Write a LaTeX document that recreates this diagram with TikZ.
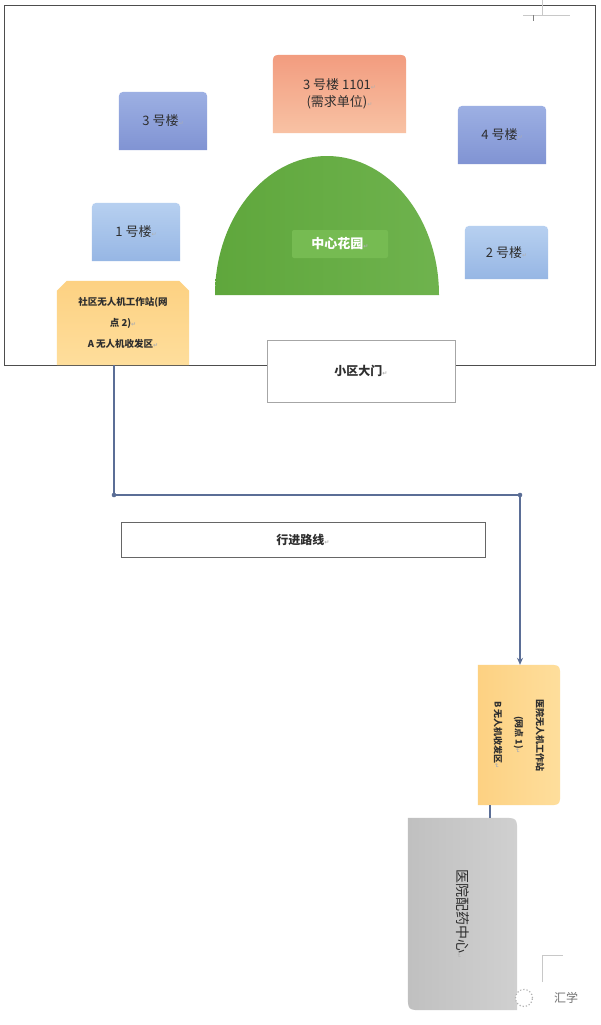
\documentclass[tikz,border=0pt]{standalone}
\usepackage{fontspec}
\setmainfont{Noto Sans CJK SC}
\newfontfamily\dejavu{DejaVu Sans}
\usetikzlibrary{arrows.meta,calc,backgrounds}
\definecolor{frameC}{HTML}{4D4D4D}
\definecolor{blueDa}{HTML}{9DB0E3}
\definecolor{blueDb}{HTML}{8093D3}
\definecolor{blueLa}{HTML}{B7D0F0}
\definecolor{blueLb}{HTML}{96B6E4}
\definecolor{salA}{HTML}{F29C7F}
\definecolor{salB}{HTML}{F8C2A4}
\definecolor{greenG}{HTML}{62AC3E}
\definecolor{greenL}{HTML}{76BB52}
\definecolor{yelA}{HTML}{FDD182}
\definecolor{yelB}{HTML}{FEDE9C}
\definecolor{grayA}{HTML}{C0C0C0}
\definecolor{grayB}{HTML}{D0D0D0}
\definecolor{routeC}{HTML}{5B6E96}
\definecolor{txtC}{HTML}{2E2E2E}
\definecolor{retC}{HTML}{B0B0B0}
\definecolor{markC}{HTML}{C8C8C8}
\newcommand\rmark{{\dejavu\fontsize{6}{6}\selectfont\textcolor{retC}{↵}}}
\tikzset{
  txtnode/.style={inner sep=0pt, text=txtC, align=center},
  bigtxt/.style={font=\fontsize{13}{17}\selectfont},
  toprnd/.style 2 args={insert path={(#1.south west) -- ($(#1.north west)+(0,#2)$) .. controls (#1.north west) .. ($(#1.north west)+(#2,0)$) -- ($(#1.north east)+(-#2,0)$) .. controls (#1.north east) .. ($(#1.north east)+(0,#2)$) -- (#1.south east) -- cycle}},
  plainbox/.style={draw=#1, fill=white, line width=1pt, inner sep=0pt, text=txtC, font=\fontsize{12}{14}\selectfont\bfseries},
  route/.style={draw=routeC, line width=1.5pt},
  markline/.style={draw=markC, line width=0.8pt}
}
\begin{document}
\begin{tikzpicture}[x=1pt,y=-1pt]
\useasboundingbox (0,0) rectangle (600,1025);

% --- nodes (text) ---
\node[minimum width=591pt, minimum height=359pt, inner sep=0pt] (frame) at (300,185.5) {};
\node[txtnode, bigtxt, minimum width=133pt, minimum height=78pt] (b1101) at (339.5,94) {3 号楼 1101\rmark\\(需求单位)\rmark};
\node[txtnode, bigtxt, minimum width=88pt, minimum height=58pt] (b3) at (163,121) {3 号楼\rmark};
\node[txtnode, bigtxt, minimum width=88pt, minimum height=58pt] (b4) at (502,135) {4 号楼\rmark};
\node[txtnode, bigtxt, minimum width=88pt, minimum height=58pt] (b1) at (136,232) {1 号楼\rmark};
\node[txtnode, bigtxt, minimum width=83pt, minimum height=53pt] (b2) at (506.5,252.5) {2 号楼\rmark};
\node[txtnode, minimum width=132pt, minimum height=84pt, font=\fontsize{9.5}{21}\selectfont\bfseries] (yA) at (123,323) {社区无人机工作站(网\\点 2)\rmark\\A 无人机收发区\rmark};
\node[txtnode, minimum width=82pt, minimum height=140pt] (yB) at (519,735) {};
\node[txtnode, rotate=-90, font=\fontsize{9}{21}\selectfont\bfseries] (yBt) at (yB.center) {医院无人机工作站\\(网点 1)\rmark\\B 无人机收发区\rmark};
\node[txtnode, minimum width=109pt, minimum height=192pt] (gray) at (462.5,914) {};
\node[txtnode, rotate=-90, font=\fontsize{14}{16}\selectfont] (grayt) at (gray.center) {医院配药中心\rmark};
\coordinate (gc) at (327,295);
\node[fill=greenL, rounded corners=2pt, minimum width=96pt, minimum height=28pt, inner sep=0pt, text=white, font=\fontsize{13}{15}\selectfont\bfseries] (garden) at (340,244) {中心花园\rmark};

% --- gate and route boxes ---
\node[plainbox=gray!70, minimum width=188pt, minimum height=62pt] (gate) at (361,371) {小区大门\rmark};
\node[plainbox=gray!80!black, minimum width=364pt, minimum height=35pt] (routebox) at (303,539.5) {行进路线\rmark};

% --- shapes on background ---
\begin{scope}[on background layer]
\fill[white] (0,0) rectangle (600,1025);
\draw[frameC, line width=1.3pt] (frame.north west) rectangle (frame.south east);
\shade[top color=salA, bottom color=salB, toprnd={b1101}{12}];
\shade[top color=blueDa, bottom color=blueDb, toprnd={b3}{10}];
\shade[top color=blueDa, bottom color=blueDb, toprnd={b4}{10}];
\shade[top color=blueLa, bottom color=blueLb, toprnd={b1}{10}];
\shade[top color=blueLa, bottom color=blueLb, toprnd={b2}{10}];
\shade[left color=greenG!97!black, right color=greenG!92!white] ($(gc)+(-112,0)$) arc[start angle=180, end angle=360, x radius=112, y radius=139] -- cycle;
\shade[top color=yelA, bottom color=yelB] (yA.south west) -- ($(yA.north west)+(0,10)$) -- ($(yA.north west)+(10,0)$) -- ($(yA.north east)+(-10,0)$) -- ($(yA.north east)+(0,10)$) -- (yA.south east) -- cycle;
\shade[left color=yelA, right color=yelB] (yB.north west) -- ($(yB.north east)+(-14,0)$) .. controls (yB.north east) .. ($(yB.north east)+(0,14)$) -- ($(yB.south east)+(0,-14)$) .. controls (yB.south east) .. ($(yB.south east)+(-14,0)$) -- (yB.south west) -- cycle;
\shade[left color=grayA, right color=grayB] (gray.north west) -- ($(gray.north east)+(-16,0)$) .. controls (gray.north east) .. ($(gray.north east)+(0,16)$) -- (gray.south east) -- ($(gray.south west)+(16,0)$) .. controls (gray.south west) .. ($(gray.south west)+(0,-16)$) -- cycle;
\end{scope}

% --- route ---
\coordinate (c1) at (114,495);
\coordinate (c2) at (520,495);
\coordinate (c3) at (490,812);
\draw[route, -{Stealth[length=7pt,width=6pt]}] (yA.south -| c1) -- (c1) -- (c2) -- (yB.north -| c2);
\fill[routeC] (c1) circle (2.3) (c2) circle (2.3);
\draw[draw=routeC, line width=1.2pt] (yB.south -| c3) -- (gray.north -| c3);

% --- page marks and watermark ---
\draw[markline] (542,0) -- (542,15) (523,15) -- (570,15);
\draw[gray, line width=0.8pt] (533,15) -- (533,21);
\draw[markline] (542,982) -- (542,955) -- (563,955);
\node[circle, fill=white, draw=gray!60, dotted, line width=1.2pt, minimum size=17pt, inner sep=0pt] (wmicon) at (524,998) {};
\node[inner sep=0pt, text=gray!90!black, font=\fontsize{12}{12}\selectfont] (wm) at (566,998) {汇学};
\end{tikzpicture}
\end{document}
